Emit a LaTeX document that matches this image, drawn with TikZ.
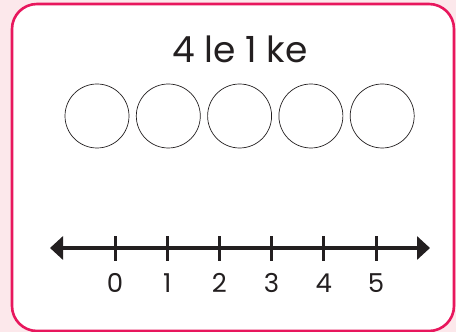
\documentclass[tikz,border=0pt]{standalone}
\usepackage{fontspec}
\setmainfont{Poppins}
\usetikzlibrary{arrows.meta,positioning}
\definecolor{blush}{HTML}{FCE8EB}
\definecolor{rim}{HTML}{E8175D}
\definecolor{ink}{HTML}{231F20}

\begin{document}
\begin{tikzpicture}[x=1pt, y=1pt,
      card/.style={draw=rim, line width=2.6pt, fill=white, rounded corners=25pt},
      ring/.style={circle, draw=ink, line width=0.7pt, minimum size=64pt, inner sep=0pt},
      numline/.style={{Triangle[length=13pt,width=23pt]}-{Triangle[length=13pt,width=23pt]}, line width=3.2pt, color=ink},
      tickmark/.style={line width=3pt, color=ink},
      numlabel/.style={font=\fontsize{26}{26}\selectfont, text=ink, inner sep=0pt}]
    \useasboundingbox[fill=blush] (0,0) rectangle (456,332);
    \draw[card] (12,1) rectangle (454,328);
    \node[font=\fontsize{36}{36}\selectfont, text=ink, anchor=base] (title) at (240,269) {4 le 1 ke};
    % the five counters
    \foreach \i in {1,...,5}
      \node[ring] (c\i) at (97+71.3*\i-71.3,216) {};
    % number line
    \coordinate (lstart) at (50,84);
    \coordinate (lend) at (430,84);
    \draw[numline] (lstart) -- (lend);
    \foreach \n in {0,...,5} {
      \coordinate (t\n) at (115+52.2*\n,84);
      \draw[tickmark] ([yshift=-13pt]t\n) -- ([yshift=12pt]t\n);
      \node[numlabel, anchor=base] (n\n) at ([yshift=-45pt]t\n) {\n};
    }
  \end{tikzpicture}
\end{document}
